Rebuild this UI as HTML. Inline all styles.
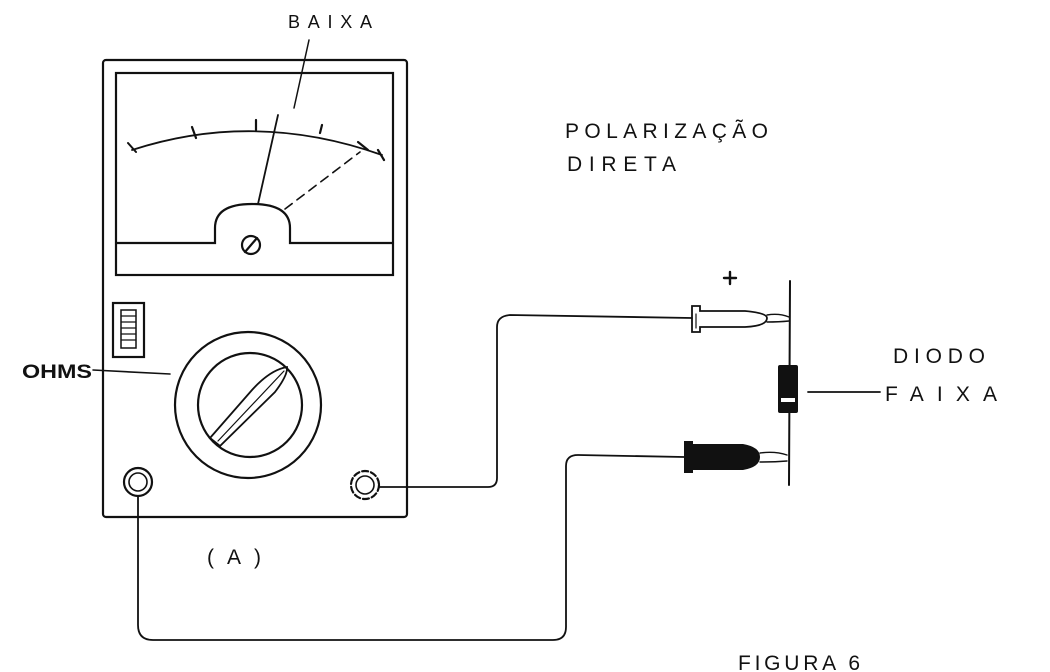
<!DOCTYPE html>
<html><head><meta charset="utf-8"><style>
html,body{margin:0;padding:0;background:#fff;width:1050px;height:672px;overflow:hidden}
svg{display:block}
text{font-family:"Liberation Sans",sans-serif;fill:#111}
</style></head><body>
<svg width="1050" height="672" viewBox="0 0 1050 672" xmlns="http://www.w3.org/2000/svg">
<g fill="none" stroke="#111" stroke-width="2.2" stroke-linecap="round">
<rect x="103" y="60" width="304" height="457" rx="3"/>
<rect x="116" y="73" width="277" height="202"/>
<path d="M116 243 H215 V228 Q215 204 252 204 Q290 204 290 228 V243 H393"/>
<circle cx="251" cy="245" r="9"/>
<line x1="245" y1="252" x2="257" y2="238"/>
<path d="M132 150 Q255 110 382 155" stroke-width="1.8"/>
<line x1="128" y1="143" x2="136" y2="152" stroke-width="2"/>
<line x1="192" y1="127" x2="196" y2="138"/>
<line x1="256" y1="120" x2="256" y2="130"/>
<line x1="322" y1="125" x2="320" y2="133"/>
<line x1="358" y1="142" x2="368" y2="150"/>
<line x1="378" y1="150" x2="384" y2="160"/>
<line x1="258" y1="204" x2="278" y2="115" stroke-width="1.8"/>
<line x1="294" y1="108" x2="309" y2="40" stroke-width="1.5"/>
<line x1="285" y1="209" x2="360" y2="152" stroke-dasharray="9 6" stroke-width="1.6"/>
<rect x="113" y="303" width="31" height="54"/>
<rect x="121" y="310" width="15" height="38" stroke-width="1.5"/>
<path d="M121 316h15M121 322h15M121 328h15M121 334h15M121 340h15" stroke-width="1.2"/>
<circle cx="248" cy="405" r="73"/>
<circle cx="250" cy="405" r="52"/>
<path d="M210 438 L252 390 Q270 370 287 367 Q288 375 275 392 L220 446 Z" stroke-width="1.8"/>
<line x1="218" y1="441" x2="284" y2="371" stroke-width="1.2"/>
<line x1="93" y1="370" x2="170" y2="374" stroke-width="1.6"/>
<circle cx="138" cy="482" r="14"/><circle cx="138" cy="482" r="9" stroke-width="1.6"/>
<circle cx="365" cy="485" r="14" stroke-dasharray="6 3"/><circle cx="365" cy="485" r="9" stroke-width="1.6"/>
<path d="M379 487 H488 Q497 487 497 478 V327 Q497 316 510 315 L692 318" stroke-width="1.8"/>
<path d="M138 496 V625 Q138 640 153 640 H553 Q566 640 566 627 V466 Q566 455 578 455 L684 457" stroke-width="1.8"/>
<path d="M692 306 h8 v5 h45 q22 2 22 7 q0 8 -22 9 h-45 v5 h-8 z" stroke-width="1.8"/>
<line x1="696" y1="314" x2="696" y2="328" stroke-width="1.2"/>
<path d="M767 315 q12 -2 22 2 M767 322 q12 0 22 -1" stroke-width="1.4"/>
<line x1="790" y1="281" x2="789" y2="485" stroke-width="2"/>
<line x1="808" y1="392" x2="880" y2="392" stroke-width="1.8"/>
<line x1="724" y1="278" x2="736" y2="278" stroke-width="2.4"/>
<line x1="730" y1="272" x2="730" y2="284" stroke-width="2.4"/>
<path d="M760 453 q15 -2 27 2 M760 462 q15 0 27 -1" stroke-width="1.4"/>
</g>
<rect x="778" y="365" width="20" height="48" rx="2" fill="#111"/>
<rect x="781" y="398" width="14" height="4" fill="#fff"/>
<path d="M684 441 h9 v3 h50 q17 3 17 13 q0 10 -17 13 h-50 v3 h-9 z" fill="#111"/>
<text x="288" y="28" font-size="18" textLength="84" lengthAdjust="spacing">BAIXA</text>
<text x="565" y="138" font-size="21" textLength="203" lengthAdjust="spacing">POLARIZAÇÃO</text>
<text x="567" y="171" font-size="21" textLength="109" lengthAdjust="spacing">DIRETA</text>
<text x="22" y="378" font-size="19" font-weight="bold" textLength="70" lengthAdjust="spacingAndGlyphs">OHMS</text>
<text x="893" y="363" font-size="21" textLength="92" lengthAdjust="spacing">DIODO</text>
<text x="885" y="401" font-size="21" textLength="112" lengthAdjust="spacing">FAIXA</text>
<text x="207" y="564" font-size="21" textLength="54" lengthAdjust="spacing">(A)</text>
<text x="738" y="670" font-size="21" textLength="122" lengthAdjust="spacing">FIGURA 6</text>
</svg>
</body></html>
